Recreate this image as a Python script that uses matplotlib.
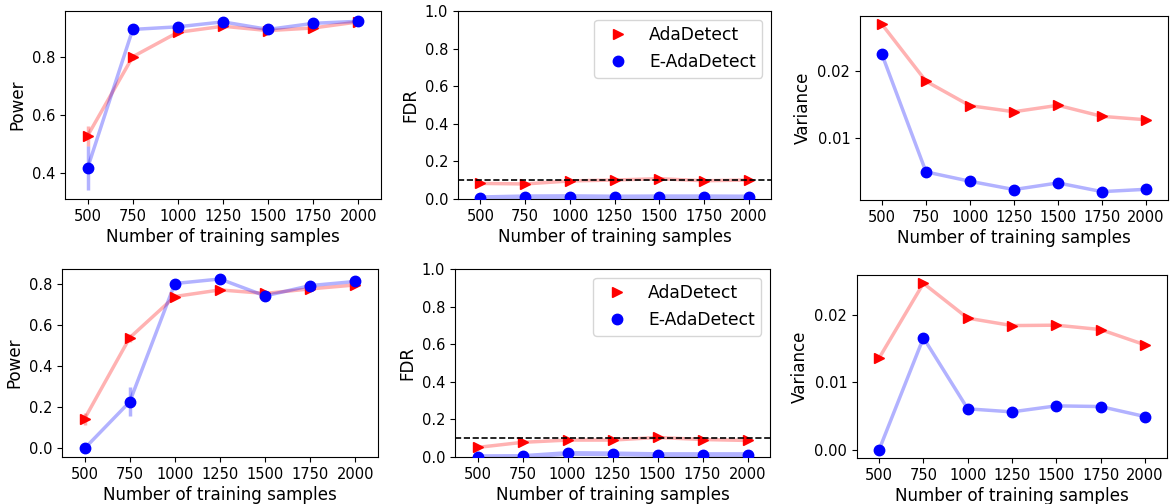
import matplotlib
matplotlib.use("Agg")
import matplotlib.pyplot as plt
from matplotlib.lines import Line2D
from matplotlib.ticker import MultipleLocator
import numpy as np

n_train = [500, 750, 1000, 1250, 1500, 1750, 2000]

# Top row
power_ada_top = [0.529, 0.801, 0.885, 0.906, 0.891, 0.900, 0.921]
power_ada_top_err = [0.034, 0.010, 0.008, 0.006, 0.007, 0.007, 0.006]
power_e_top = [0.418, 0.895, 0.904, 0.921, 0.895, 0.916, 0.923]
power_e_top_err = [0.077, 0.008, 0.007, 0.006, 0.007, 0.006, 0.006]
fdr_ada_top = [0.083, 0.080, 0.096, 0.101, 0.108, 0.097, 0.101]
fdr_e_top = [0.007, 0.012, 0.013, 0.011, 0.012, 0.012, 0.011]
var_ada_top = [0.0270, 0.0185, 0.01484, 0.01394, 0.0149, 0.01325, 0.01274]
var_e_top = [0.0225, 0.00495, 0.00355, 0.00231, 0.0033, 0.0020, 0.00235]

# Bottom row
power_ada_bot = [0.144, 0.537, 0.737, 0.769, 0.752, 0.774, 0.793]
power_ada_bot_err = [0.030, 0.020, 0.008, 0.007, 0.008, 0.007, 0.007]
power_e_bot = [0.000, 0.226, 0.800, 0.822, 0.740, 0.790, 0.810]
power_e_bot_err = [0.000, 0.071, 0.008, 0.007, 0.008, 0.008, 0.007]
fdr_ada_bot = [0.051, 0.078, 0.090, 0.090, 0.104, 0.093, 0.088]
fdr_e_bot = [0.002, 0.003, 0.019, 0.017, 0.013, 0.013, 0.013]
var_ada_bot = [0.0136, 0.02468, 0.01951, 0.01841, 0.01847, 0.01782, 0.01556]
var_e_bot = [0.0000, 0.0166, 0.00606, 0.00561, 0.0065, 0.0064, 0.00492]

fdr_level = 0.1
labels = ["AdaDetect", "E-AdaDetect"]

W, H = 1171, 504
fig = plt.figure(figsize=(W / 100, H / 100), dpi=100)
plt.rcParams['xtick.labelsize'] = 10.5
plt.rcParams['ytick.labelsize'] = 10.5


def add_ax(l, r, t, b):
    return fig.add_axes([l / W, (H - b) / H, (r - l) / W, (b - t) / H])


x = np.arange(len(n_train))
MS = 7.5


def series(ax, y, color, marker, err=None, lw=2.5):
    ax.plot(x, y, color=color, alpha=0.3, lw=lw, zorder=2)
    if err is not None:
        y = np.asarray(y)
        e = np.asarray(err)
        ax.vlines(x, y - e, y + e, color=color, alpha=0.3, lw=2.5, zorder=2)
    ax.plot(x, y, linestyle='none', marker=marker, color=color, ms=MS, zorder=3)


def finish(ax, ylabel):
    ax.set_xticks(x)
    ax.set_xticklabels([str(v) for v in n_train])
    ax.set_xlim(-0.5, len(n_train) - 0.5)
    ax.set_xlabel("Number of training samples", fontsize=12.1, labelpad=3)
    ax.set_ylabel(ylabel, fontsize=12.1)


axes_pos = [
    (65, 381, 11, 199), (458, 771, 11, 199), (860, 1168, 16, 200),
    (62, 378, 269, 457), (455, 770, 269, 457), (857, 1167, 275, 458),
]
axs = [add_ax(*p) for p in axes_pos]

rows = [
    (power_ada_top, power_ada_top_err, power_e_top, power_e_top_err,
     fdr_ada_top, fdr_e_top, var_ada_top, var_e_top),
    (power_ada_bot, power_ada_bot_err, power_e_bot, power_e_bot_err,
     fdr_ada_bot, fdr_e_bot, var_ada_bot, var_e_bot),
]

for r, (pa, pae, pe, pee, fa, fe, va, ve) in enumerate(rows):
    a1, a2, a3 = axs[3 * r:3 * r + 3]
    series(a1, pa, 'red', '>', pae)
    series(a1, pe, 'blue', 'o', pee)
    finish(a1, "Power")

    series(a2, fa, 'red', '>')
    series(a2, fe, 'blue', 'o', lw=3.5)
    a2.axhline(fdr_level, color='black', ls='--', lw=1.2, zorder=4)
    a2.set_ylim(0, 1.0)
    finish(a2, "FDR")
    handles = [Line2D([], [], linestyle='none', marker='>', color='red', ms=MS),
               Line2D([], [], linestyle='none', marker='o', color='blue', ms=MS)]
    a2.legend(handles, labels, loc='upper right', fontsize=12.3)

    series(a3, va, 'red', '>')
    series(a3, ve, 'blue', 'o')
    a3.yaxis.set_major_locator(MultipleLocator(0.01))
    finish(a3, "Variance")

fig.savefig("out.png", dpi=100)
